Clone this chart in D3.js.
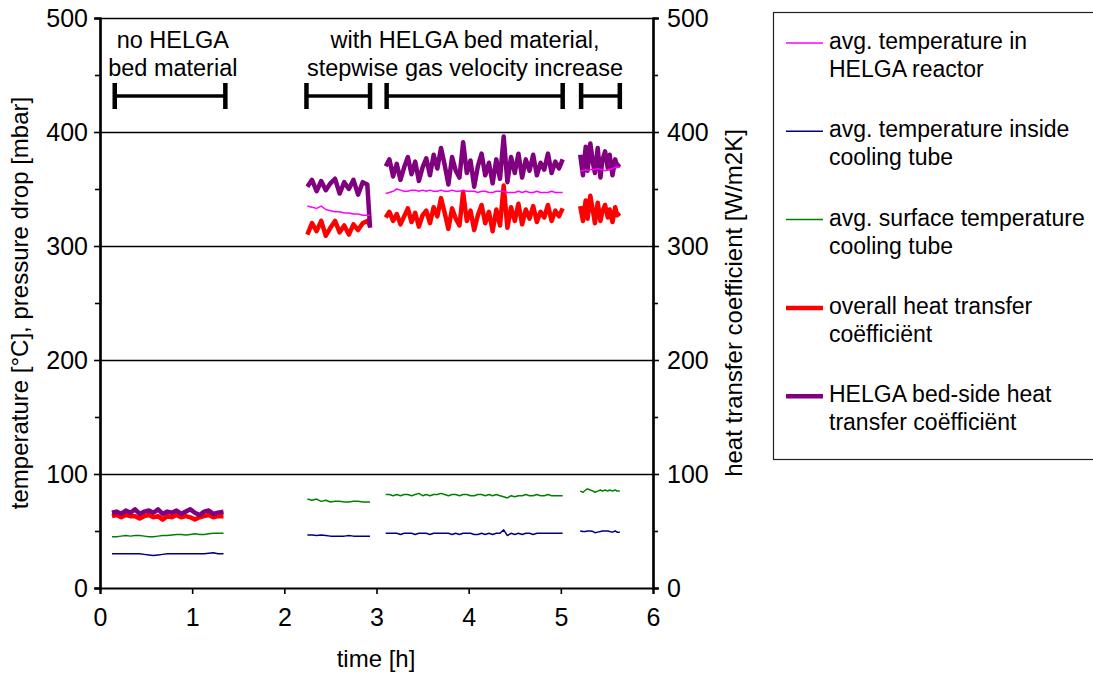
<!DOCTYPE html>
<html><head><meta charset="utf-8">
<script src="https://cdn.jsdelivr.net/npm/d3@7"></script>
<style>
body{margin:0;background:#fff;}
svg text{font-family:"Liberation Sans",Arial,sans-serif;fill:#000;}
</style></head><body>
<svg id="c" width="1093" height="676"></svg>
<script>
// ---- data ----
const xTicks = [0,1,2,3,4,5,6];
const yTicks = [0,100,200,300,400,500];
const yMinorTicks = [50,150,250,350,450];

const seg1Time = [0.13,0.18,0.23,0.28,0.33,0.38,0.43,0.48,0.53,0.58,0.63,0.68,0.73,0.78,0.83,0.88,0.93,0.98,1.03,1.08,1.13,1.18,1.23,1.28,1.34];
const seg2Time = [2.25,2.30,2.35,2.40,2.45,2.50,2.55,2.60,2.65,2.70,2.75,2.80,2.85,2.90,2.93];
const seg3Time = [3.10,3.14,3.18,3.22,3.26,3.30,3.34,3.38,3.42,3.46,3.50,3.54,3.58,3.62,3.66,3.70,3.74,3.78,3.82,3.86,3.90,3.94,3.98,4.02,4.06,4.10,4.14,4.18,4.22,4.26,4.30,4.34,4.38,4.42,4.46,4.50,4.54,4.58,4.62,4.66,4.70,4.74,4.78,4.82,4.86,4.90,4.94,4.98,5.02];
const seg4Time = [5.21,5.24,5.27,5.29,5.32,5.35,5.37,5.40,5.43,5.45,5.48,5.51,5.53,5.56,5.59,5.61,5.64];

// avg. temperature in HELGA reactor (pink) - only with bed material
const pinkSeg2 = [335,334,333,335,332,331,330,330,329,329,328,328,327,327,327];
const pinkSeg3 = [346,347,348,350,349,348,348,349,349,348,349,348,349,348,348,349,348,348,349,348,348,349,348,348,348,347,348,348,347,347,348,348,348,347,347,347,348,347,348,347,347,348,347,347,347,348,347,347,347];
const pinkSeg4 = [366,366,367,366,367,367,367,368,367,367,366,367,367,368,369,369,369];

// avg. temperature inside cooling tube (blue)
const blueSeg1 = [30,30,30,30,30,30,30,29.5,29,28.5,29,29.5,30,30,30,30,30,30,30,30,30,30.5,31,30,30];
const blueSeg2 = [46.5,46.5,46,46.5,46,45.5,45.5,45.5,45.5,46,45.5,45.5,45.5,45.5,45.5];
const blueSeg3 = [48,48,48,48,47,48,48,48,47,48,48,48,47,48,48,48,48,48,47,48,47,48,48,48,47,47,48,47,48,47,48,48,51,46,48,47,48,47,48,48,47,48,48,48,48,48,48,48,48];
const blueSeg4 = [50,49.5,49.5,50,50,49.5,48.5,49,49.5,50,50,50,49.5,49,50,49,49];

// avg. surface temperature cooling tube (green)
const greenSeg1 = [45,45,45.5,46,45.5,46,46,45.5,45,45,45.5,46,46,46.5,47,47,46.5,47,47.5,47,47,47.5,48,48,48];
const greenSeg2 = [78,77,78,76,77,75.5,76,76,75.5,75.5,76,76,75.5,75.5,75.5];
const greenSeg3 = [82,82,81,82,81,82,82,81,82,83,81,82,81,82,82,83,82,81,82,82,81,82,82,81,81,82,82,81,82,81,82,81,80,79,81,80,81,81,82,81,81,82,81,81,82,81,81,81,81];
const greenSeg4 = [85,84,86,87,86,85,84,85,86,85,86,85,86,85,86,85,85];

// overall heat transfer coefficient (red)
const redSeg1 = [63,64,62,64,63,63,61,63,64,62,63,60,63,62,64,62,63,62,60,62,63,64,62,63,63];
const redSeg2 = [310,320,313,322,309,316,322,312,318,310,319,314,320,322,318];
const redSeg3 = [325,330,322,328,319,326,333,321,329,317,327,331,320,334,326,342,329,315,333,324,318,347,322,331,314,327,336,320,330,313,332,318,353,316,334,322,337,319,332,324,335,321,330,325,336,322,331,326,333];
const redSeg4 = [335,322,340,324,344,330,320,338,322,330,336,325,332,321,334,327,329];

// HELGA bed-side heat transfer coefficient (purple)
const purpleSeg1 = [66,67,65,68,66,69,65,67,68,66,69,65,67,66,68,65,67,69,66,64,67,68,65,66,67];
const purpleSeg2 = [352,358,348,357,349,355,359,346,356,350,358,345,356,354,316];
const purpleSeg3 = [370,376,361,372,358,369,378,363,374,357,369,377,362,380,368,386,371,354,378,366,360,391,364,375,352,370,381,362,373,355,376,359,396,356,378,364,381,360,376,366,380,362,373,367,381,364,374,368,376];
const purpleSeg4 = [380,362,387,366,390,372,364,386,360,375,383,368,380,362,376,370,372];

const seriesNames = ["avg. temperature in HELGA reactor","avg. temperature inside cooling tube","avg. surface temperature cooling tube","overall heat transfer coëfficiënt","HELGA bed-side heat transfer coëfficiënt"];
const legendLines = [["avg. temperature in","HELGA reactor"],["avg. temperature inside","cooling tube"],["avg. surface temperature","cooling tube"],["overall heat transfer","coëfficiënt"],["HELGA bed-side heat","transfer coëfficiënt"]];
const seriesColors = ["#FF00FF","#000080","#008000","#FF0000","#800080"];
const seriesWidths = [1.5,1.5,1.5,4.5,4.5];

const phaseStart = [0.16,2.24,3.11,5.22];
const phaseEnd   = [1.36,2.93,5.02,5.64];
const annotations = [
  {t:0.79, lines:["no HELGA","bed material"]},
  {t:3.96, lines:["with HELGA bed material,","stepwise gas velocity increase"]}
];

// ---- chart ----
const svg = d3.select("#c");
const L=100,R=653,T=18,B=588;
const x = d3.scaleLinear().domain([0,6]).range([L,R]);
const y = d3.scaleLinear().domain([0,500]).range([B,T]);
const FT = 25, FA = 24, FL = 23;

// gridlines
svg.append("g").selectAll("line").data(yTicks.filter(d=>d>0)).join("line")
  .attr("x1",L).attr("x2",R).attr("y1",d=>Math.round(y(d))+0.5).attr("y2",d=>Math.round(y(d))+0.5)
  .attr("stroke","#000").attr("stroke-width",1.3);

// left axis
svg.append("g").attr("transform",`translate(${L},0)`)
  .call(d3.axisLeft(y).tickValues(yTicks).tickSize(6).tickPadding(6).tickFormat(d3.format("d")));
svg.append("g").attr("transform",`translate(${L},0)`)
  .call(d3.axisLeft(y).tickValues(yMinorTicks).tickSize(5).tickFormat(""));
// right axis
svg.append("g").attr("transform",`translate(${R},0)`)
  .call(d3.axisRight(y).tickValues(yTicks).tickSize(6).tickPadding(8).tickFormat(d3.format("d")));
svg.append("g").attr("transform",`translate(${R},0)`)
  .call(d3.axisRight(y).tickValues(yMinorTicks).tickSize(5).tickFormat(""));
// bottom axis
svg.append("g").attr("transform",`translate(0,${B})`)
  .call(d3.axisBottom(x).tickValues(xTicks).tickSize(6).tickPadding(14).tickFormat(d3.format("d")));

svg.selectAll(".domain").attr("stroke","#000").attr("stroke-width",2.2);
svg.selectAll(".tick line").attr("stroke","#000").attr("stroke-width",1.6);
svg.selectAll(".tick text").attr("font-size",FT).attr("font-family","Liberation Sans, Arial, sans-serif").attr("fill","#000");

// axis titles
svg.append("text").attr("x",376).attr("y",661).attr("text-anchor","middle").attr("dominant-baseline","middle")
  .attr("font-size",FA).text("time [h]");
svg.append("text").attr("transform","translate(22,303) rotate(-90)").attr("text-anchor","middle").attr("dominant-baseline","middle")
  .attr("font-size",FA).text("temperature [°C], pressure drop [mbar]");
svg.append("text").attr("transform","translate(736,303) rotate(-90)").attr("text-anchor","middle").attr("dominant-baseline","middle")
  .attr("font-size",FA).text("heat transfer coefficient [W/m2K]");

// series
const segTimes = [seg1Time,seg2Time,seg3Time,seg4Time];
const seriesData = [
  [null,pinkSeg2,pinkSeg3,pinkSeg4],
  [blueSeg1,blueSeg2,blueSeg3,blueSeg4],
  [greenSeg1,greenSeg2,greenSeg3,greenSeg4],
  [redSeg1,redSeg2,redSeg3,redSeg4],
  [purpleSeg1,purpleSeg2,purpleSeg3,purpleSeg4]
];
const line = d3.line().x(d=>x(d[0])).y(d=>y(d[1]));
const drawOrder = [3,4,0,2,1];
drawOrder.forEach(si=>{
  seriesData[si].forEach((vals,k)=>{
    if(!vals) return;
    const pts = vals.map((v,i)=>[segTimes[k][i],v]);
    svg.append("path").attr("d",line(pts)).attr("fill","none")
      .attr("stroke",seriesColors[si]).attr("stroke-width",seriesWidths[si])
      .attr("stroke-linejoin","round");
  });
});

// phase brackets
const by = 96;
phaseStart.forEach((s,i)=>{
  const e = phaseEnd[i];
  svg.append("line").attr("x1",x(s)).attr("x2",x(e)).attr("y1",by).attr("y2",by).attr("stroke","#000").attr("stroke-width",3.5);
  [s,e].forEach(v=>svg.append("line").attr("x1",x(v)).attr("x2",x(v)).attr("y1",by-13).attr("y2",by+13).attr("stroke","#000").attr("stroke-width",4.5));
});
annotations.forEach(a=>{
  a.lines.forEach((t,j)=>svg.append("text").attr("x",x(a.t)).attr("y",42+j*28).attr("text-anchor","middle")
    .attr("dominant-baseline","middle").attr("font-size",FL+0.5).text(t));
});

// legend
svg.append("rect").attr("x",773.5).attr("y",12.5).attr("width",330).attr("height",447)
  .attr("fill","none").attr("stroke","#222").attr("stroke-width",1.2);
legendLines.forEach((ls,i)=>{
  const ly = 43 + i*88.3;
  svg.append("line").attr("x1",786).attr("x2",823).attr("y1",ly).attr("y2",ly)
    .attr("stroke",seriesColors[i]).attr("stroke-width",seriesWidths[i]);
  ls.forEach((t,j)=>svg.append("text").attr("x",829).attr("y",ly+j*28).attr("dominant-baseline","middle")
    .attr("font-size",FL).text(t));
});
</script>
</body></html>
